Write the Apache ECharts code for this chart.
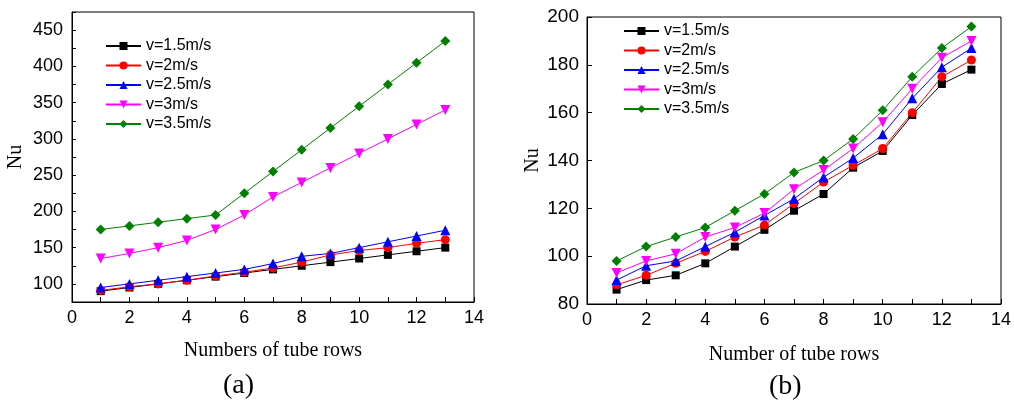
<!DOCTYPE html>
<html>
<head>
<meta charset="utf-8">
<script src="https://cdn.jsdelivr.net/npm/echarts@6/dist/echarts.min.js"></script>
<style>
html,body{margin:0;padding:0;background:#fff;}
#c{width:1014px;height:403px;}
</style>
</head>
<body>
<div id="c"></div>
<script>
// ---- data ----
const rows = [1,2,3,4,5,6,7,8,9,10,11,12,13];
const seriesNames = ['v=1.5m/s','v=2m/s','v=2.5m/s','v=3m/s','v=3.5m/s'];
// chart (a)
const a_v15 = [90,95,100,105,110,115,120,125,130,135,140,145,150];
const a_v2  = [91,96,100,105,111,116,122,130,140,146,150,156,161];
const a_v25 = [95,100,105,110,115,120,128,138,142,150,158,166,174];
const a_v3  = [135,142,150,160,175,195,220,240,260,280,300,320,340];
const a_v35 = [175,180,185,190,195,225,255,285,315,345,375,405,435];
// chart (b)
const b_v15 = [86,90,92,97,104,111,119,126,137,144,159,172,178];
const b_v2  = [88,92,97,102,108,113,122,131,138,145,160,175,182];
const b_v25 = [90,96,98,104,110,117,124,133,141,151,166,179,187];
const b_v3  = [93,98,101,108,112,118,128,136,145,156,170,183,190];
const b_v35 = [98,104,108,112,119,126,135,140,149,161,175,187,196];
const xTitleA = 'Numbers of tube rows';
const xTitleB = 'Number of tube rows';
const yTitle = 'Nu';

// ---- styles ----
const colors = ['#000000','#ff0000','#0000ff','#ff00ff','#008000'];
const symbols = ['rect','circle','triangle','path://M0,0 L10,0 L5,9 Z','diamond'];
const symSizes = [8,9,10,10,10];
const sans = 'Liberation Sans, Arial, sans-serif';
const serif = 'Liberation Serif, Times New Roman, serif';

function pairs(arr){ return rows.map((r,i)=>[r,arr[i]]); }

function mkSeries(dataArrs, idx){
  return dataArrs.map((d,i)=>({
    type:'line', name:seriesNames[i], xAxisIndex:idx, yAxisIndex:idx,
    data:pairs(d), symbol:symbols[i], symbolSize:symSizes[i],
    showAllSymbol:true, animation:false,
    lineStyle:{color:colors[i],width:1},
    itemStyle:{color:colors[i]}
  }));
}

function xAxis(idx, title, gap){
  return {
    type:'value', gridIndex:idx, min:0, max:14, interval:1,
    axisLine:{show:true,lineStyle:{color:'#000',width:1}},
    axisTick:{show:true,inside:true,length:5,lineStyle:{color:'#000'}},
    axisLabel:{color:'#000',fontFamily:sans,fontSize:18,margin:7,
      formatter:v=> (v%2===0? String(v):'')},
    splitLine:{show:false},
    name:title, nameLocation:'middle', nameGap:gap,
    nameTextStyle:{color:'#000',fontFamily:serif,fontSize:20}
  };
}

function legend(left, top){
  return {orient:'vertical', left:left, top:top, itemWidth:35, itemHeight:10, itemGap:3.5,
    data:seriesNames, selectedMode:false,
    textStyle:{color:'#000',fontFamily:sans,fontSize:16,lineHeight:16}};
}

const option = {
  backgroundColor:'#fff',
  animation:false,
  grid:[
    {left:72, top:12, width:402, height:290, show:true, borderColor:'#000', borderWidth:1, backgroundColor:'transparent'},
    {left:587, top:17, width:414, height:287, show:true, borderColor:'#000', borderWidth:1, backgroundColor:'transparent'}
  ],
  xAxis:[ xAxis(0,xTitleA,39), xAxis(1,xTitleB,41) ],
  yAxis:[
    {type:'value', gridIndex:0, min:75, max:475, interval:25,
     axisLine:{show:true,lineStyle:{color:'#000'}},
     axisTick:{show:true,inside:true,length:4,lineStyle:{color:'#000'}},
     axisLabel:{color:'#000',fontFamily:sans,fontSize:18,margin:9,
       formatter:v=> (v%50===0? String(v):'')},
     splitLine:{show:false},
     name:yTitle, nameLocation:'middle', nameGap:46, nameRotate:90,
     nameTextStyle:{color:'#000',fontFamily:serif,fontSize:20}},
    {type:'value', gridIndex:1, min:80, max:200, interval:20,
     axisLine:{show:true,lineStyle:{color:'#000'}},
     axisTick:{show:true,inside:true,length:5,lineStyle:{color:'#000'}},
     axisLabel:{color:'#000',fontFamily:sans,fontSize:19,margin:8},
     splitLine:{show:false},
     name:yTitle, nameLocation:'middle', nameGap:44, nameRotate:90,
     nameTextStyle:{color:'#000',fontFamily:serif,fontSize:20}}
  ],
  legend:[ legend(100,33), legend(618,18) ],
  graphic:[
    {type:'text', left:223, top:372, style:{text:'(a)', fill:'#000', font:'28px '+serif}},
    {type:'text', left:769, top:373, style:{text:'(b)', fill:'#000', font:'28px '+serif}}
  ],
  series:[
    ...mkSeries([a_v15,a_v2,a_v25,a_v3,a_v35],0),
    ...mkSeries([b_v15,b_v2,b_v25,b_v3,b_v35],1)
  ]
};
const chart = echarts.init(document.getElementById('c'), null, {renderer:'canvas'});
chart.setOption(option);
</script>
</body>
</html>
